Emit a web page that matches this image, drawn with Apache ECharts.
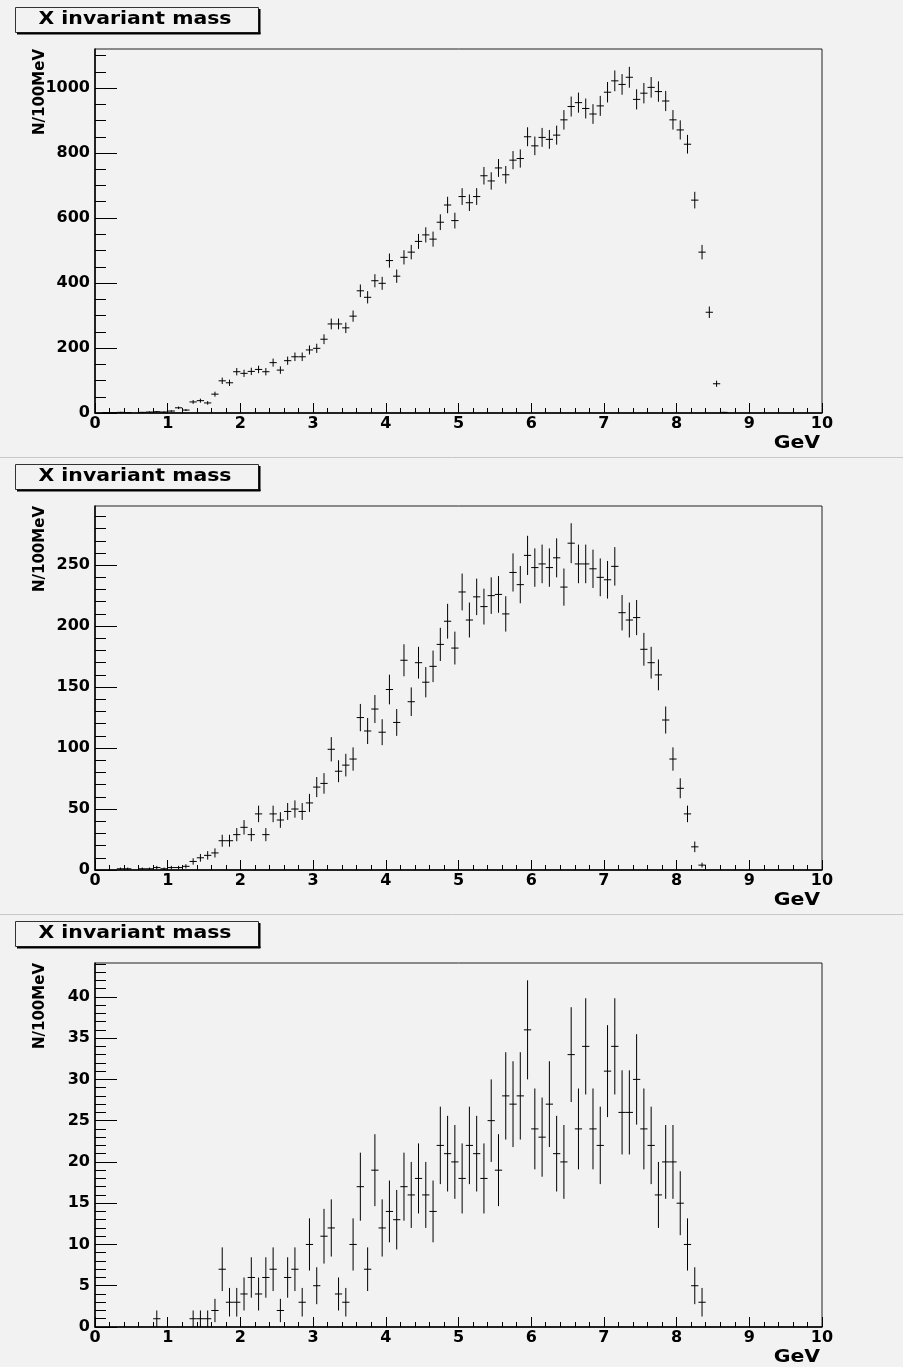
<!DOCTYPE html>
<html>
<head>
<meta charset="utf-8">
<title>X invariant mass</title>
<script src="https://cdn.jsdelivr.net/npm/echarts@6/dist/echarts.min.js"></script>
<style>
    html, body { margin: 0; padding: 0; background: #f2f2f2; }
    #main { width: 903px; height: 1367px; }
</style>
</head>
<body>
<div id="main"></div>
<script>
    // 100 bins of 100 MeV from 0 to 10 GeV
    var binWidth = 0.1;
    var nBins = 100;

    var counts1 = [
        0, 1, 1, 2, 1, 0, 2, 3, 4, 3,
        6, 16, 9, 34, 38, 31, 58, 99, 93, 127,
        122, 128, 134, 127, 155, 132, 161, 173, 173, 194,
        199, 227, 274, 274, 262, 298, 376, 356, 407, 399,
        469, 421, 479, 495, 528, 548, 535, 587, 640, 592,
        666, 647, 666, 730, 714, 754, 733, 778, 783, 850,
        822, 848, 842, 855, 902, 943, 955, 937, 920, 945,
        987, 1022, 1011, 1033, 965, 984, 1002, 989, 960, 902,
        871, 827, 655, 495, 310, 90, 2, 0, 0, 0,
        0, 0, 0, 0, 0, 0, 0, 0, 0, 0
    ];
    var counts2 = [
        0, 0, 0, 1, 1, 0, 1, 1, 2, 1,
        2, 2, 3, 7, 10, 12, 14, 24, 24, 29,
        35, 29, 46, 29, 46, 41, 48, 50, 48, 55,
        68, 71, 99, 81, 86, 91, 125, 114, 132, 113,
        148, 121, 172, 138, 170, 154, 167, 185, 204, 182,
        228, 205, 224, 216, 225, 226, 210, 244, 234, 258,
        248, 251, 248, 256, 232, 268, 251, 251, 247, 240,
        238, 249, 211, 205, 207, 181, 170, 160, 123, 91,
        67, 46, 19, 4, 0, 0, 0, 0, 0, 0,
        0, 0, 0, 0, 0, 0, 0, 0, 0, 0
    ];
    var counts3 = [
        0, 0, 0, 0, 0, 0, 0, 0, 1, 0,
        0, 0, 0, 1, 1, 1, 2, 7, 3, 3,
        4, 6, 4, 6, 7, 2, 6, 7, 3, 10,
        5, 11, 12, 4, 3, 10, 17, 7, 19, 12,
        14, 13, 17, 16, 18, 16, 14, 22, 21, 20,
        18, 22, 21, 18, 25, 19, 28, 27, 28, 36,
        24, 23, 27, 21, 20, 33, 24, 34, 24, 22,
        31, 34, 26, 26, 30, 24, 22, 16, 20, 20,
        15, 10, 5, 3, 0, 0, 0, 0, 0, 0,
        0, 0, 0, 0, 0, 0, 0, 0, 0, 0
    ];

    var yMax = [1120, 298.5, 44.1];
    var yTicks1 = [0, 200, 400, 600, 800, 1000];
    var yTicks2 = [0, 50, 100, 150, 200, 250];
    var yTicks3 = [0, 5, 10, 15, 20, 25, 30, 35, 40];
    var yMinorStep = [50, 10, 1];
    var xTicks = [0, 1, 2, 3, 4, 5, 6, 7, 8, 9, 10];

    var titleText = 'X invariant mass';
    var yTitle = 'N/100MeV';
    var xTitle = 'GeV';

    var bg = '#f2f2f2';
    var labelFont = 'DejaVu Sans';
    var panelStep = 457;

    var chart = echarts.init(document.getElementById('main'), null, {renderer: 'canvas'});

    //把计数变成 [中心, 计数, 误差]
    function toPoints(counts) {
        var pts = [];
        for (var i = 0; i < nBins; i++) {
            if (counts[i] > 0) {
                pts.push([binWidth * i + binWidth / 2, counts[i], Math.sqrt(counts[i])]);
            }
        }
        return pts;
    }

    function minorList(max, step) {
        var arr = [];
        for (var v = step; v < max; v += step) arr.push(+v.toFixed(4));
        return arr;
    }

    function renderCross(params, api) {
        var x = api.value(0), v = api.value(1), e = api.value(2);
        var c = api.coord([x, v]);
        var l = api.coord([x - binWidth / 2, v]);
        var r = api.coord([x + binWidth / 2, v]);
        var t = api.coord([x, v + e]);
        var b = api.coord([x, v - e]);
        var st = {stroke: '#000', lineWidth: 1};
        return {
            type: 'group',
            children: [
                {type: 'line', shape: {x1: l[0], y1: c[1], x2: r[0], y2: c[1]}, style: st},
                {type: 'line', shape: {x1: c[0], y1: t[1], x2: c[0], y2: b[1]}, style: st}
            ]
        };
    }

    var allCounts = [counts1, counts2, counts3];
    var allTicks = [yTicks1, yTicks2, yTicks3];

    var grids = [], xAxes = [], yAxes = [], series = [], graphics = [];

    for (var k = 0; k < 3; k++) {
        var off = panelStep * k;
        grids.push({
            left: 95, top: 49 + off, width: 727, height: 364,
            show: true, borderColor: '#222', borderWidth: 1, backgroundColor: 'transparent'
        });
        xAxes.push({
            gridIndex: k, type: 'value', min: 0, max: 10, interval: 1,
            axisLine: {lineStyle: {color: '#000', width: 1.5}},
            axisTick: {inside: true, length: 10, lineStyle: {color: '#000'}},
            minorTick: {show: true, splitNumber: 5, length: 5, lineStyle: {color: '#000'}},
            axisLabel: {
                color: '#000', fontFamily: labelFont, fontWeight: 'bold', fontSize: 16, margin: 3,
                formatter: function (v) { return xTicks.indexOf(v) >= 0 ? String(v) : ''; }
            },
            splitLine: {show: false}
        });
        // 主刻度 + 标签
        yAxes.push({
            gridIndex: k, type: 'value', min: 0, max: yMax[k], position: 'left',
            axisLine: {show: true, lineStyle: {color: '#000', width: 1.5}},
            axisTick: {show: true, inside: true, length: 22, lineStyle: {color: '#000'}, customValues: allTicks[k]},
            axisLabel: {
                color: '#000', fontFamily: labelFont, fontWeight: 'bold', fontSize: 16, margin: 5,
                customValues: allTicks[k],
                formatter: function (v) { return String(v); }
            },
            splitLine: {show: false}
        });
        // 次刻度
        yAxes.push({
            gridIndex: k, type: 'value', min: 0, max: yMax[k], position: 'left',
            axisLine: {show: false},
            axisTick: {show: true, inside: true, length: 11, lineStyle: {color: '#000'},
                customValues: minorList(yMax[k], yMinorStep[k])},
            axisLabel: {show: false},
            splitLine: {show: false}
        });
        series.push({
            type: 'custom',
            xAxisIndex: k,
            yAxisIndex: 2 * k,
            renderItem: renderCross,
            encode: {x: 0, y: 1},
            data: toPoints(allCounts[k]),
            animation: false
        });

        // 标题框
        graphics.push({
            type: 'rect', shape: {x: 15.5, y: 7.5 + off, width: 243, height: 25},
            style: {fill: bg, stroke: '#333', lineWidth: 1}
        });
        graphics.push({
            type: 'line', shape: {x1: 259.5, y1: 9 + off, x2: 259.5, y2: 34 + off},
            style: {stroke: '#000', lineWidth: 2}
        });
        graphics.push({
            type: 'line', shape: {x1: 17, y1: 33.5 + off, x2: 260.5, y2: 33.5 + off},
            style: {stroke: '#000', lineWidth: 2}
        });
        graphics.push({
            type: 'text', x: 135, y: 20 + off, scaleX: 1.2,
            style: {text: titleText, font: 'bold 17px "DejaVu Sans"', fill: '#000', align: 'center', verticalAlign: 'middle'}
        });
        graphics.push({
            type: 'text', x: 40, y: 49 + off, rotation: Math.PI / 2,
            style: {text: yTitle, font: 'bold 15px "DejaVu Sans"', fill: '#000', align: 'right', verticalAlign: 'middle'}
        });
        graphics.push({
            type: 'text', x: 820, y: 444 + off, scaleX: 1.2,
            style: {text: xTitle, font: 'bold 17px "DejaVu Sans"', fill: '#000', align: 'right', verticalAlign: 'middle'}
        });
        if (k > 0) {
            graphics.push({
                type: 'line', shape: {x1: 0, y1: off + 0.5, x2: 903, y2: off + 0.5},
                style: {stroke: '#c8c8c8', lineWidth: 1}
            });
        }
    }

    chart.setOption({
        backgroundColor: bg,
        animation: false,
        grid: grids,
        xAxis: xAxes,
        yAxis: yAxes,
        series: series,
        graphic: graphics
    });
</script>
</body>
</html>
